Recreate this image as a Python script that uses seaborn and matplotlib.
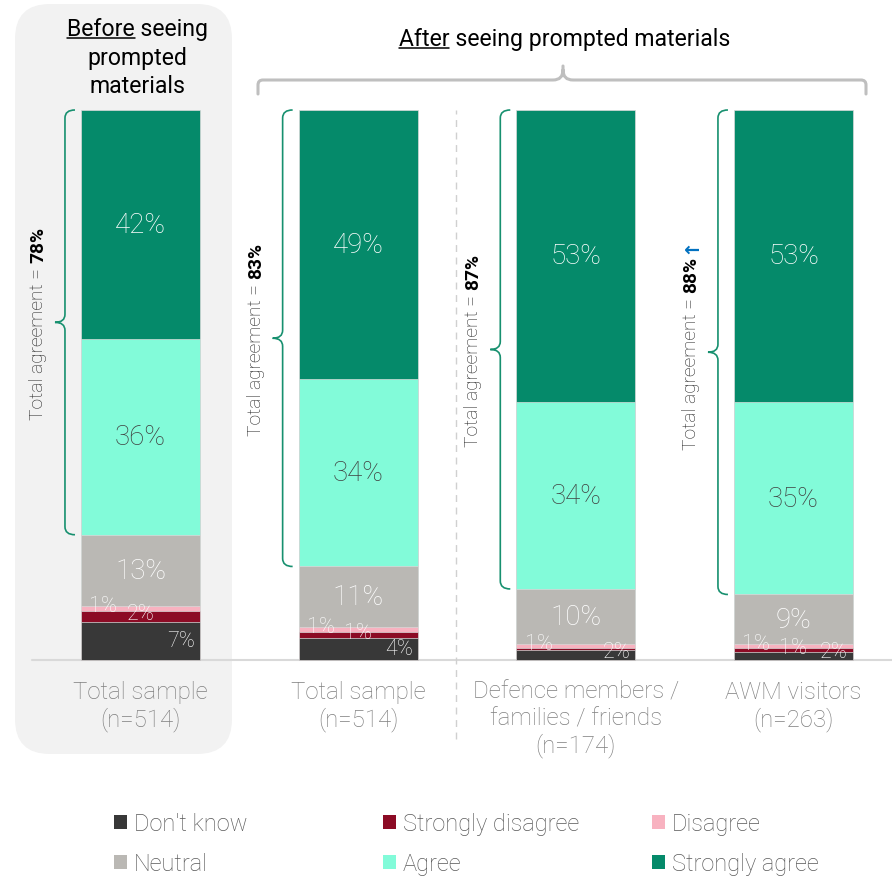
import numpy as np
import pandas as pd
import matplotlib.pyplot as plt
import seaborn as sns
from matplotlib.patches import FancyBboxPatch, Patch, PathPatch
from matplotlib.path import Path

groups = ["before", "after_total", "after_defence", "after_awm"]
group_labels = ["Total sample\n(n=514)", "Total sample\n(n=514)",
                "Defence members /\nfamilies / friends\n(n=174)", "AWM visitors\n(n=263)"]
segments = ["Don't know", "Strongly disagree", "Disagree", "Neutral", "Agree", "Strongly agree"]
dont_know = [7, 4, 1.8, 1.5]
strongly_disagree = [2, 1, 0.4, 0.7]
disagree = [1, 1, 0.7, 0.7]
neutral = [13, 11, 10, 9]
agree = [36, 34, 34, 35]
strongly_agree = [42, 49, 53, 53]
improved = [False, False, False, True]

colors = ["#383838", "#8C0B25", "#F8B2C0", "#BAB8B4", "#82FBD9", "#058A6A"]
label_colors = ["white", "white", "white", "white", "#404040", "white"]

df = pd.DataFrame({"group": groups, "Don't know": dont_know,
                   "Strongly disagree": strongly_disagree, "Disagree": disagree,
                   "Neutral": neutral, "Agree": agree, "Strongly agree": strongly_agree})
share = df[segments].div(df[segments].sum(axis=1), axis=0) * 100
cum = share.cumsum(axis=1)

sns.set_theme(style="white")
plt.rcParams['font.family'] = ['Roboto', 'DejaVu Sans']

W, H = 892, 879
fig = plt.figure(figsize=(W / 100, H / 100), dpi=100)
ax = fig.add_axes([0, 0, 1, 1])
X0, X1 = -0.6455, 3.4526
Y0, Y1 = -39.64, 120.18
PX = (X1 - X0) / W
PY = (Y1 - Y0) / H
BAR_W = 0.547
HALF = BAR_W / 2


def P(xp, yp):
    return X0 + xp * PX, Y1 - yp * PY


# grey "before" panel
px0, py0 = P(15, 755)
px1, py1 = P(232, 5)
ax.add_patch(FancyBboxPatch((px0, py0), px1 - px0, py1 - py0,
                            boxstyle="round,pad=0,rounding_size=0.16",
                            mutation_aspect=PY / PX, facecolor="#F2F2F2",
                            edgecolor="none", zorder=0))

# baseline and divider
ax.plot([-0.5, X1], [0, 0], color="#D9D9D9", lw=1.5, zorder=1)
ax.plot([1.45, 1.45], [-14.4, 100], color="#D0D0D0", lw=1, ls=(0, (5, 4)), zorder=1)

# stacked bars (cumulative, drawn from top down)
for seg, col in reversed(list(zip(segments, colors))):
    sns.barplot(x=groups, y=cum[seg].values, order=groups, color=col, width=BAR_W,
                saturation=1, edgecolor="#d9d9d9", linewidth=0.5, errorbar=None,
                ax=ax, zorder=2)

# segment labels
for i in range(len(groups)):
    for j, seg in enumerate(segments):
        v = df.loc[i, seg]
        if v < 0.5:
            continue
        s = share.loc[i, seg]
        yc = cum.loc[i, seg] - s / 2
        txt = f"{v:.0f}%"
        if j >= 3:
            ax.text(i, yc, txt, ha="center", va="center", fontsize=20,
                    color=label_colors[j], weight="light", zorder=5)
        elif j == 0:
            ax.text(i + HALF - 5 * PX, max(yc, 1.6), txt, ha="right", va="center",
                    fontsize=15.5, color=label_colors[j], weight="light", zorder=5)
        else:
            xs = i if j == 1 else i - 0.17
            ax.text(xs, yc + 0.5, txt, ha="center", va="center", fontsize=15.5,
                    color=label_colors[j], weight="light", zorder=5)

# category labels
for i, lab in enumerate(group_labels):
    ax.text(i, Y1 - 681 * PY, lab, ha="center", va="top", fontsize=17.3,
            color="#7F7F7F", weight="light", linespacing=1.17)

renderer = fig.canvas.get_renderer()


def text_width(s, **kw):
    t = ax.text(0, 0, s, **kw)
    w = t.get_window_extent(renderer=renderer).width
    t.remove()
    return w


# braces + total agreement
brace_col = "#17906F"
for i in range(len(groups)):
    y_top = cum.loc[i, "Strongly agree"]
    y_bot = cum.loc[i, "Neutral"]
    y_mid = (y_top + y_bot) / 2
    xv = i - HALF - 16 * PX
    hx, r = 10 * PX, 8 * PY
    verts = [(xv + hx, y_top), (xv, y_top), (xv, y_top - r),
             (xv, y_mid + r), (xv, y_mid), (xv - hx, y_mid),
             (xv, y_mid), (xv, y_mid - r),
             (xv, y_bot + r), (xv, y_bot), (xv + hx, y_bot)]
    codes = [Path.MOVETO, Path.CURVE3, Path.CURVE3, Path.LINETO, Path.CURVE3, Path.CURVE3,
             Path.CURVE3, Path.CURVE3, Path.LINETO, Path.CURVE3, Path.CURVE3]
    ax.add_patch(PathPatch(Path(verts, codes), fill=False, edgecolor=brace_col, lw=1.2, zorder=3))

    tot = df.loc[i, "Agree"] + df.loc[i, "Strongly agree"]
    kw_a = dict(fontsize=13.8, color="#1f1f1f", weight="light")
    kw_b = dict(fontsize=13.8, color="black", weight="bold")
    sp = text_width("x x", **kw_a) - text_width("xx", **kw_a)
    parts = [("Total agreement =", kw_a, sp), (f"{tot:.0f}%", kw_b, sp * 0.6)]
    main_len = sum(text_width(p, **k) for p, k, _ in parts) + sp
    if improved[i]:
        parts.append(("\u2191", dict(fontsize=13.8, color="#0070C0", weight="bold",
                                     family=["Roboto", "DejaVu Sans"]), 0))
    xb = i - HALF - 38 * PX
    y = y_mid - main_len / 2 * PY
    for p, k, gap in parts:
        ax.text(xb, y, p, rotation=90, rotation_mode="anchor", ha="left",
                va="baseline", **k)
        y += (text_width(p, **k) + gap) * PY


# headers with underlined first word
def header_line(xc, yb, first, rest, **kw):
    full = first + rest
    w_full = text_width(full, **kw)
    w_first = text_width(first, **kw)
    ax.text(xc, yb, full, ha="center", va="baseline", **kw)
    xs = xc - w_full / 2 * PX
    ax.plot([xs, xs + w_first * PX], [yb - 2.5 * PY] * 2, color="black", lw=1.1)


hkw = dict(fontsize=16.6, color="black")
bx = -0.014
header_line(bx, P(0, 36.5)[1], "Before", " seeing", **hkw)
ax.text(bx, P(0, 65)[1], "prompted", ha="center", va="baseline", **hkw)
ax.text(bx, P(0, 93.5)[1], "materials", ha="center", va="baseline", **hkw)
header_line(1.948, P(0, 46)[1], "After", " seeing prompted materials", **hkw)

# bracket over the "after" bars
pts = [(258, 95), (258, 86), (258, 81), (263, 81), (553, 81), (563, 81), (563, 71),
       (563, 67), (563, 71), (563, 81), (573, 81), (861, 81), (866, 81), (866, 86), (866, 95)]
codes = [Path.MOVETO, Path.LINETO, Path.CURVE3, Path.CURVE3, Path.LINETO, Path.CURVE3,
         Path.CURVE3, Path.LINETO, Path.MOVETO, Path.CURVE3, Path.CURVE3, Path.LINETO,
         Path.CURVE3, Path.CURVE3, Path.LINETO]
ax.add_patch(PathPatch(Path([P(*p) for p in pts], codes), fill=False,
                       edgecolor="#BFBFBF", lw=2.2, capstyle="round", zorder=3))

ax.set_xlim(X0, X1)
ax.set_ylim(Y0, Y1)
ax.axis("off")

# legend, three columns of two rows
handles = [Patch(facecolor=c, edgecolor="none", label=s) for s, c in zip(segments, colors)]
col_x = [114, 383, 652]
for k in range(3):
    fig.legend(handles=[handles[k], handles[k + 3]], loc="upper left",
               bbox_to_anchor=(col_x[k] / W, 1 - 813 / H), frameon=False,
               labelcolor="#595959", handlelength=0.55,
               handleheight=0.55, handletextpad=0.3, labelspacing=0.72,
               borderpad=0, borderaxespad=0, prop={"weight": "light", "size": 17})

fig.savefig("out.png", dpi=100)
